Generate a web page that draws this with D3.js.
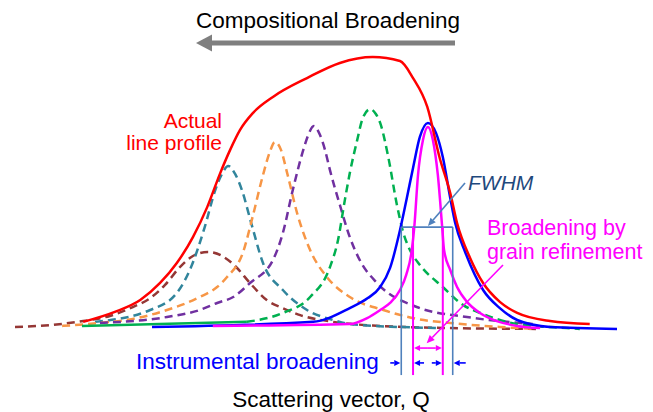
<!DOCTYPE html>
<html>
<head>
<meta charset="utf-8">
<script src="https://cdn.jsdelivr.net/npm/d3@7"></script>
<style>
  body { margin: 0; background: #fff; }
  svg { display: block; }
  text { font-family: "Liberation Sans", Arial, sans-serif; }
</style>
</head>
<body>
<div id="chart"></div>
<script>
// profiles: [Q (a.u.), intensity (% of actual peak)]
const actualProfile = [[11.0,1.9],[16.1,5.6],[20.2,10.0],[23.4,16.3],[26.1,23.7],[28.7,33.3],[31.0,44.4],
  [33.1,57.0],[34.7,65.6],[36.3,73.0],[38.4,79.3],[41.6,85.2],[47.1,92.2],[52.4,97.8],[57.7,100],
  [62.1,98.5],[64.2,92.2],[66.5,81.5],[68.5,62.6],[70.2,49.6],[71.3,38.5],[73.4,25.6],[75.5,16.3],
  [78.2,9.3],[81.0,5.2],[86.3,2.2],[92.7,1.1]];

const instrumentalProfile = [[22.1,0],[48.1,1.9],[54.0,7.0],[56.9,10.7],[58.9,14.8],[60.5,21.9],[62.1,35.9],
  [63.2,47.8],[64.2,58.9],[65.3,70.4],[66.6,75.6],[67.9,71.9],[69.0,63.0],[70.2,47.8],[71.0,38.5],
  [72.6,27.8],[75.5,13.7],[78.2,7.0],[81.0,2.6],[86.3,0],[97.1,-0.7]];

const grainProfile = [[31.9,0.4],[54.0,1.1],[56.8,3.3],[58.9,6.3],[60.5,8.9],[62.1,13.7],[63.1,19.3],
  [64.0,28.5],[64.4,37.0],[65.0,56.3],[65.8,69.3],[66.6,74.1],[67.4,69.3],[68.2,56.3],[68.9,37.0],
  [69.2,28.5],[70.2,21.1],[71.3,14.8],[72.9,9.3],[75.0,5.2],[77.7,2.2],[81.0,0.4],[84.7,-0.4]];

const brownPeak = [[0,0],[5.6,0.7],[11.0,2.2],[15.3,4.1],[19.0,7.4],[21.8,10.7],[24.2,15.6],[26.6,22.2],
  [28.7,26.3],[31.1,27.8],[33.4,26.3],[35.5,22.6],[37.9,16.3],[40.6,10.0],[43.2,7.0],[46.0,4.4],
  [51.3,1.9],[58.9,0.4],[70.2,-0.4],[84.2,-0.7]];

const tealPeak = [[12.9,1.9],[21.8,6.3],[26.1,12.6],[28.4,22.2],[30.6,37.0],[32.3,50.7],[33.3,56.3],
  [34.4,59.6],[35.5,56.7],[36.6,50.7],[38.1,38.5],[40.0,23.7],[43.2,13.7],[47.1,6.3],[51.3,2.6],
  [54.0,1.1],[62.1,0],[68.5,-0.4]];

const orangePeak = [[7.6,0.4],[13.7,1.5],[19.0,3.0],[24.5,6.3],[29.8,11.1],[32.6,14.8],[34.2,18.5],
  [36.8,27.8],[38.4,41.5],[40.0,56.3],[41.1,64.8],[41.9,68.5],[42.9,65.6],[43.9,57.0],[45.5,42.2],
  [47.6,28.5],[50.3,18.5],[54.0,11.1],[59.4,6.3],[64.8,3.0],[70.2,1.5],[78.2,0],[83.9,-0.7]];

const purplePeak = [[13.7,1.5],[24.5,3.7],[29.8,6.3],[32.6,8.9],[35.2,11.1],[37.9,16.3],[41.6,24.8],
  [43.2,34.8],[44.8,50.7],[46.5,65.6],[47.3,71.1],[48.2,74.4],[49.2,71.1],[50.0,65.6],[50.8,58.1],
  [52.4,45.2],[54.0,33.3],[55.6,24.8],[58.4,16.3],[64.8,7.4],[72.9,3.7],[83.5,1.1]];

const greenTail = [[10.8,0.4],[37.4,1.9]];
const greenPeak = [[37.4,1.9],[43.2,5.2],[47.6,11.1],[50.8,22.2],[52.1,32.2],[53.2,47.0],[54.0,57.0],
  [55.2,69.3],[56.1,77.4],[57.3,80.7],[58.2,78.9],[58.9,75.6],[60.2,63.0],[61.6,45.2],[62.6,35.2],
  [63.7,28.5],[65.3,23.0],[69.0,14.8],[72.3,8.1],[75.5,4.8],[81.0,1.1],[89.0,-0.4],[91.1,-0.7]];

// half maximum and the two widths
const halfMax = 37.0;
const fwhmInstrumental = [62.3, 70.6];
const fwhmGrain = [64.2, 69.0];

const width = 653, height = 412;

const svg = d3.select("#chart").append("svg")
  .attr("width", width)
  .attr("height", height);

const x = d3.scaleLinear().domain([0, 100]).range([15, 635]);
const y = d3.scaleLinear().domain([0, 100]).range([327, 57]);

const line = d3.line()
  .x(d => x(d[0]))
  .y(d => y(d[1]))
  .curve(d3.curveMonotoneX);

function arrow(g, x1, y1, x2, y2, color, w, hl, hw) {
  const a = Math.atan2(y2 - y1, x2 - x1);
  const bx = x2 - hl * Math.cos(a), by = y2 - hl * Math.sin(a);
  g.append("line")
    .attr("x1", x1).attr("y1", y1).attr("x2", bx).attr("y2", by)
    .attr("stroke", color).attr("stroke-width", w);
  const px = -Math.sin(a) * hw / 2, py = Math.cos(a) * hw / 2;
  g.append("path")
    .attr("d", `M${x2},${y2}L${bx + px},${by + py}L${bx - px},${by - py}Z`)
    .attr("fill", color);
}

// dashed component peaks
const dashed = [
  { data: brownPeak, color: "#953735" },
  { data: tealPeak, color: "#31859c" },
  { data: orangePeak, color: "#f79646" },
  { data: purplePeak, color: "#7030a0" },
  { data: greenPeak, color: "#00b050" }
];

svg.append("g").selectAll("path")
  .data(dashed)
  .enter()
  .append("path")
  .attr("d", d => line(d.data))
  .attr("fill", "none")
  .attr("stroke", d => d.color)
  .attr("stroke-width", 2.5)
  .attr("stroke-dasharray", "8,5");

svg.append("path")
  .attr("d", line(greenTail))
  .attr("fill", "none")
  .attr("stroke", "#00b050")
  .attr("stroke-width", 2.5);

// solid profiles
const solid = [
  { data: instrumentalProfile, color: "#0000ff" },
  { data: grainProfile, color: "#ff00ff" },
  { data: actualProfile, color: "#ff0000" }
];

svg.append("g").selectAll("path")
  .data(solid)
  .enter()
  .append("path")
  .attr("d", d => line(d.data))
  .attr("fill", "none")
  .attr("stroke", d => d.color)
  .attr("stroke-width", 2.5);

// FWHM construction
const ann = svg.append("g");
const yBottom = y(-17.8);

fwhmInstrumental.forEach(q => {
  ann.append("line")
    .attr("x1", x(q)).attr("x2", x(q))
    .attr("y1", y(halfMax)).attr("y2", yBottom)
    .attr("stroke", "#4f81bd").attr("stroke-width", 1.6);
});
ann.append("line")
  .attr("x1", x(fwhmInstrumental[0])).attr("x2", x(fwhmInstrumental[1]))
  .attr("y1", y(halfMax)).attr("y2", y(halfMax))
  .attr("stroke", "#4f81bd").attr("stroke-width", 1.6);

fwhmGrain.forEach(q => {
  ann.append("line")
    .attr("x1", x(q)).attr("x2", x(q))
    .attr("y1", y(halfMax)).attr("y2", yBottom)
    .attr("stroke", "#ff00ff").attr("stroke-width", 2);
});

// magenta double arrow
const yDouble = y(-7.8);
const gl = x(fwhmGrain[0]), gr = x(fwhmGrain[1]);
const gm = (gl + gr) / 2;
arrow(ann, gm, yDouble, gl + 1, yDouble, "#ff00ff", 1.6, 6, 6);
arrow(ann, gm, yDouble, gr - 1, yDouble, "#ff00ff", 1.6, 6, 6);

// instrumental arrows
const ySmall = y(-13.3);
const il = x(fwhmInstrumental[0]), ir = x(fwhmInstrumental[1]);
arrow(ann, il - 11, ySmall, il - 1, ySmall, "#0000ff", 1.6, 6, 6);
arrow(ann, gl + 11, ySmall, gl + 1, ySmall, "#0000ff", 1.6, 6, 6);
arrow(ann, gr - 11, ySmall, gr - 1, ySmall, "#0000ff", 1.6, 6, 6);
arrow(ann, ir + 13, ySmall, ir + 1, ySmall, "#0000ff", 1.6, 6, 6);

// pointers
arrow(ann, 465, 183, x(66.6), y(halfMax) - 1, "#4f81bd", 1.6, 8, 7);
arrow(ann, 503, 265, x(66.4), y(-6), "#ff00ff", 1.6, 8, 7);

// compositional broadening arrow
arrow(ann, 455, 43, 196, 43, "#7f7f7f", 5, 16, 17);

// labels
const labels = [
  { text: "Compositional Broadening", x: 328, y: 28, anchor: "middle", color: "#000", size: 22.5 },
  { text: "Actual", x: 222, y: 128, anchor: "end", color: "#ff0000", size: 21 },
  { text: "line profile", x: 222, y: 150, anchor: "end", color: "#ff0000", size: 21 },
  { text: "FWHM", x: 468, y: 190, anchor: "start", color: "#1f497d", size: 21, italic: true },
  { text: "Broadening by", x: 487, y: 235, anchor: "start", color: "#ff00ff", size: 21.5 },
  { text: "grain refinement", x: 487, y: 259, anchor: "start", color: "#ff00ff", size: 21.5 },
  { text: "Instrumental broadening", x: 136, y: 369, anchor: "start", color: "#0000ff", size: 22.5 },
  { text: "Scattering vector, Q", x: 331, y: 407, anchor: "middle", color: "#000", size: 22.5 }
];

svg.append("g").selectAll("text")
  .data(labels)
  .enter()
  .append("text")
  .attr("x", d => d.x)
  .attr("y", d => d.y)
  .attr("text-anchor", d => d.anchor)
  .attr("fill", d => d.color)
  .style("font-size", d => d.size + "px")
  .style("font-style", d => d.italic ? "italic" : "normal")
  .text(d => d.text);
</script>
</body>
</html>
